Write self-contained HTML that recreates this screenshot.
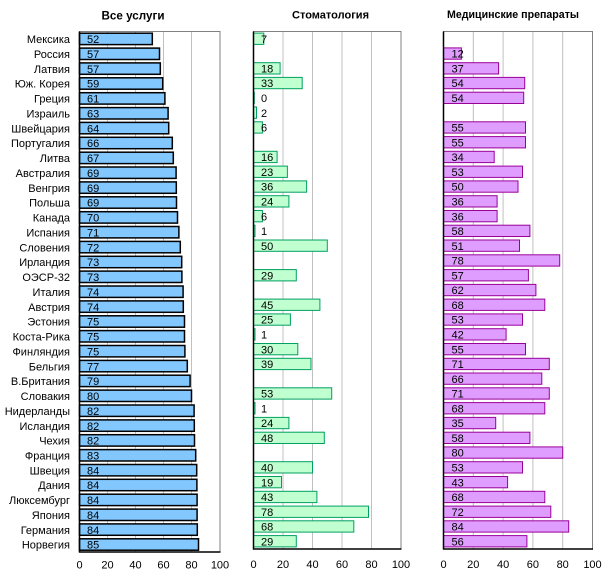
<!DOCTYPE html>
<html><head><meta charset="utf-8"><style>
html,body{margin:0;padding:0;background:#fff;}
svg{display:block;}
text{font-family:"Liberation Sans",Arial,sans-serif;}
</style></head><body>
<svg width="610" height="584" viewBox="0 0 610 584" xmlns="http://www.w3.org/2000/svg">
<rect x="0" y="0" width="610" height="584" fill="#fff"/>
<!-- titles -->
<g font-weight="bold" fill="#000">
<text x="101.5" y="19.3" font-size="12" textLength="63" lengthAdjust="spacingAndGlyphs">Все услуги</text>
<text x="292" y="18.5" font-size="11" textLength="77" lengthAdjust="spacingAndGlyphs">Стоматология</text>
<text x="447" y="18" font-size="11" textLength="132" lengthAdjust="spacingAndGlyphs">Медицинские препараты</text>
</g>

<!-- PANEL 1 -->
<g stroke="#c0c0c0" stroke-width="1">
<line x1="107.5" y1="31.5" x2="107.5" y2="552"/>
<line x1="135.5" y1="31.5" x2="135.5" y2="552"/>
<line x1="163.5" y1="31.5" x2="163.5" y2="552"/>
<line x1="191.5" y1="31.5" x2="191.5" y2="552"/>
</g>
<rect x="79.5" y="31.5" width="140.5" height="520.5" fill="none" stroke="#808080" stroke-width="1"/>
<g fill="#82c8ff" stroke="#000" stroke-width="1.5">
<rect x="79.5" y="33.2" width="72.8" height="11.4"/>
<rect x="79.5" y="48.1" width="80.0" height="11.4"/>
<rect x="79.5" y="62.9" width="80.8" height="11.4"/>
<rect x="79.5" y="77.8" width="83.2" height="11.4"/>
<rect x="79.5" y="92.7" width="85.4" height="11.4"/>
<rect x="79.5" y="107.6" width="88.6" height="11.4"/>
<rect x="79.5" y="122.4" width="89.2" height="11.4"/>
<rect x="79.5" y="137.3" width="92.8" height="11.4"/>
<rect x="79.5" y="152.2" width="93.8" height="11.4"/>
<rect x="79.5" y="167.0" width="96.6" height="11.4"/>
<rect x="79.5" y="181.9" width="96.8" height="11.4"/>
<rect x="79.5" y="196.8" width="97.0" height="11.4"/>
<rect x="79.5" y="211.7" width="98.0" height="11.4"/>
<rect x="79.5" y="226.5" width="99.4" height="11.4"/>
<rect x="79.5" y="241.4" width="100.8" height="11.4"/>
<rect x="79.5" y="256.3" width="102.2" height="11.4"/>
<rect x="79.5" y="271.1" width="102.4" height="11.4"/>
<rect x="79.5" y="286.0" width="103.6" height="11.4"/>
<rect x="79.5" y="300.9" width="103.8" height="11.4"/>
<rect x="79.5" y="315.8" width="105.0" height="11.4"/>
<rect x="79.5" y="330.6" width="105.0" height="11.4"/>
<rect x="79.5" y="345.5" width="105.4" height="11.4"/>
<rect x="79.5" y="360.4" width="107.8" height="11.4"/>
<rect x="79.5" y="375.2" width="110.6" height="11.4"/>
<rect x="79.5" y="390.1" width="112.0" height="11.4"/>
<rect x="79.5" y="405.0" width="114.6" height="11.4"/>
<rect x="79.5" y="419.9" width="114.8" height="11.4"/>
<rect x="79.5" y="434.7" width="115.0" height="11.4"/>
<rect x="79.5" y="449.6" width="116.2" height="11.4"/>
<rect x="79.5" y="464.5" width="117.2" height="11.4"/>
<rect x="79.5" y="479.3" width="117.4" height="11.4"/>
<rect x="79.5" y="494.2" width="117.6" height="11.4"/>
<rect x="79.5" y="509.1" width="117.6" height="11.4"/>
<rect x="79.5" y="523.9" width="117.8" height="11.4"/>
<rect x="79.5" y="538.8" width="119.0" height="11.4"/>
</g>
<line x1="79.5" y1="31.5" x2="79.5" y2="552.5" stroke="#000" stroke-width="1.5"/>
<line x1="79" y1="552" x2="220.5" y2="552" stroke="#000" stroke-width="1.5"/>
<g font-size="11" fill="#000" text-anchor="end">
<text x="70" y="43.1">Мексика</text>
<text x="70" y="58.0">Россия</text>
<text x="70" y="72.8">Латвия</text>
<text x="70" y="87.7">Юж. Корея</text>
<text x="70" y="102.6">Греция</text>
<text x="70" y="117.5">Израиль</text>
<text x="70" y="132.3">Швейцария</text>
<text x="70" y="147.2">Португалия</text>
<text x="70" y="162.1">Литва</text>
<text x="70" y="176.9">Австралия</text>
<text x="70" y="191.8">Венгрия</text>
<text x="70" y="206.7">Польша</text>
<text x="70" y="221.6">Канада</text>
<text x="70" y="236.4">Испания</text>
<text x="70" y="251.3">Словения</text>
<text x="70" y="266.2">Ирландия</text>
<text x="70" y="281.0">ОЭСР-32</text>
<text x="70" y="295.9">Италия</text>
<text x="70" y="310.8">Австрия</text>
<text x="70" y="325.7">Эстония</text>
<text x="70" y="340.5">Коста-Рика</text>
<text x="70" y="355.4">Финляндия</text>
<text x="70" y="370.3">Бельгия</text>
<text x="70" y="385.1">В.Британия</text>
<text x="70" y="400.0">Словакия</text>
<text x="70" y="414.9">Нидерланды</text>
<text x="70" y="429.8">Исландия</text>
<text x="70" y="444.6">Чехия</text>
<text x="70" y="459.5">Франция</text>
<text x="70" y="474.4">Швеция</text>
<text x="70" y="489.2">Дания</text>
<text x="70" y="504.1">Люксембург</text>
<text x="70" y="519.0">Япония</text>
<text x="70" y="533.8">Германия</text>
<text x="70" y="548.7">Норвегия</text>
</g>
<g font-size="11" fill="#000">
<text x="87" y="43.1">52</text>
<text x="87" y="58.0">57</text>
<text x="87" y="72.8">57</text>
<text x="87" y="87.7">59</text>
<text x="87" y="102.6">61</text>
<text x="87" y="117.5">63</text>
<text x="87" y="132.3">64</text>
<text x="87" y="147.2">66</text>
<text x="87" y="162.1">67</text>
<text x="87" y="176.9">69</text>
<text x="87" y="191.8">69</text>
<text x="87" y="206.7">69</text>
<text x="87" y="221.6">70</text>
<text x="87" y="236.4">71</text>
<text x="87" y="251.3">72</text>
<text x="87" y="266.2">73</text>
<text x="87" y="281.0">73</text>
<text x="87" y="295.9">74</text>
<text x="87" y="310.8">74</text>
<text x="87" y="325.7">75</text>
<text x="87" y="340.5">75</text>
<text x="87" y="355.4">75</text>
<text x="87" y="370.3">77</text>
<text x="87" y="385.1">79</text>
<text x="87" y="400.0">80</text>
<text x="87" y="414.9">82</text>
<text x="87" y="429.8">82</text>
<text x="87" y="444.6">82</text>
<text x="87" y="459.5">83</text>
<text x="87" y="474.4">84</text>
<text x="87" y="489.2">84</text>
<text x="87" y="504.1">84</text>
<text x="87" y="519.0">84</text>
<text x="87" y="533.8">84</text>
<text x="87" y="548.7">85</text>
</g>
<g font-size="11" fill="#000" text-anchor="middle">
<text x="79.5" y="568.5">0</text>
<text x="107.5" y="568.5">20</text>
<text x="135.5" y="568.5">40</text>
<text x="163.5" y="568.5">60</text>
<text x="191.5" y="568.5">80</text>
<text x="220" y="568.5">100</text>
</g>

<!-- PANEL 2 -->
<g stroke="#c0c0c0" stroke-width="1">
<line x1="283" y1="31.5" x2="283" y2="549"/>
<line x1="312.5" y1="31.5" x2="312.5" y2="549"/>
<line x1="342" y1="31.5" x2="342" y2="549"/>
<line x1="371.5" y1="31.5" x2="371.5" y2="549"/>
</g>
<rect x="253.5" y="31.5" width="147.5" height="517.5" fill="none" stroke="#808080" stroke-width="1"/>
<g fill="#c0ffd0" stroke="#00a060" stroke-width="1">
<rect x="253.5" y="33.1" width="10.3" height="11.3"/>
<rect x="253.5" y="62.7" width="26.6" height="11.3"/>
<rect x="253.5" y="77.4" width="48.7" height="11.3"/>
<rect x="253.5" y="92.2" width="0.8" height="11.3"/>
<rect x="253.5" y="107.0" width="3.0" height="11.3"/>
<rect x="253.5" y="121.8" width="8.9" height="11.3"/>
<rect x="253.5" y="151.3" width="23.6" height="11.3"/>
<rect x="253.5" y="166.1" width="33.9" height="11.3"/>
<rect x="253.5" y="180.9" width="53.1" height="11.3"/>
<rect x="253.5" y="195.7" width="35.4" height="11.3"/>
<rect x="253.5" y="210.5" width="8.9" height="11.3"/>
<rect x="253.5" y="225.2" width="1.5" height="11.3"/>
<rect x="253.5" y="240.0" width="73.8" height="11.3"/>
<rect x="253.5" y="269.6" width="42.8" height="11.3"/>
<rect x="253.5" y="299.1" width="66.4" height="11.3"/>
<rect x="253.5" y="313.9" width="36.9" height="11.3"/>
<rect x="253.5" y="328.7" width="1.5" height="11.3"/>
<rect x="253.5" y="343.5" width="44.3" height="11.3"/>
<rect x="253.5" y="358.3" width="57.5" height="11.3"/>
<rect x="253.5" y="387.8" width="78.2" height="11.3"/>
<rect x="253.5" y="402.6" width="1.5" height="11.3"/>
<rect x="253.5" y="417.4" width="35.4" height="11.3"/>
<rect x="253.5" y="432.2" width="70.8" height="11.3"/>
<rect x="253.5" y="461.7" width="59.0" height="11.3"/>
<rect x="253.5" y="476.5" width="28.0" height="11.3"/>
<rect x="253.5" y="491.3" width="63.4" height="11.3"/>
<rect x="253.5" y="506.1" width="115.0" height="11.3"/>
<rect x="253.5" y="520.8" width="100.3" height="11.3"/>
<rect x="253.5" y="535.6" width="42.8" height="11.3"/>
</g>
<line x1="253.5" y1="31.5" x2="253.5" y2="549.5" stroke="#000" stroke-width="1.5"/>
<line x1="253" y1="549" x2="401.5" y2="549" stroke="#000" stroke-width="1.5"/>
<g font-size="11" fill="#000">
<text x="261" y="42.9">7</text>
<text x="261" y="72.5">18</text>
<text x="261" y="87.2">33</text>
<text x="261" y="102.0">0</text>
<text x="261" y="116.8">2</text>
<text x="261" y="131.6">6</text>
<text x="261" y="161.1">16</text>
<text x="261" y="175.9">23</text>
<text x="261" y="190.7">36</text>
<text x="261" y="205.5">24</text>
<text x="261" y="220.3">6</text>
<text x="261" y="235.0">1</text>
<text x="261" y="249.8">50</text>
<text x="261" y="279.4">29</text>
<text x="261" y="308.9">45</text>
<text x="261" y="323.7">25</text>
<text x="261" y="338.5">1</text>
<text x="261" y="353.3">30</text>
<text x="261" y="368.1">39</text>
<text x="261" y="397.6">53</text>
<text x="261" y="412.4">1</text>
<text x="261" y="427.2">24</text>
<text x="261" y="442.0">48</text>
<text x="261" y="471.5">40</text>
<text x="261" y="486.3">19</text>
<text x="261" y="501.1">43</text>
<text x="261" y="515.9">78</text>
<text x="261" y="530.6">68</text>
<text x="261" y="545.4">29</text>
</g>
<g font-size="11" fill="#000" text-anchor="middle">
<text x="253.5" y="568">0</text>
<text x="283" y="568">20</text>
<text x="312.5" y="568">40</text>
<text x="342" y="568">60</text>
<text x="371.5" y="568">80</text>
<text x="401" y="568">100</text>
</g>

<!-- PANEL 3 -->
<g stroke="#c0c0c0" stroke-width="1">
<line x1="473.3" y1="31.5" x2="473.3" y2="549"/>
<line x1="503.1" y1="31.5" x2="503.1" y2="549"/>
<line x1="532.9" y1="31.5" x2="532.9" y2="549"/>
<line x1="562.7" y1="31.5" x2="562.7" y2="549"/>
</g>
<rect x="443.5" y="31.5" width="149" height="517.5" fill="none" stroke="#808080" stroke-width="1"/>
<g fill="#df9eff" stroke="#990099" stroke-width="1">
<rect x="443.5" y="47.9" width="17.9" height="11.3"/>
<rect x="443.5" y="62.7" width="55.1" height="11.3"/>
<rect x="443.5" y="77.4" width="81.2" height="11.3"/>
<rect x="443.5" y="92.2" width="80.2" height="11.3"/>
<rect x="443.5" y="121.8" width="82.0" height="11.3"/>
<rect x="443.5" y="136.6" width="82.0" height="11.3"/>
<rect x="443.5" y="151.3" width="50.7" height="11.3"/>
<rect x="443.5" y="166.1" width="79.0" height="11.3"/>
<rect x="443.5" y="180.9" width="74.5" height="11.3"/>
<rect x="443.5" y="195.7" width="53.6" height="11.3"/>
<rect x="443.5" y="210.5" width="53.6" height="11.3"/>
<rect x="443.5" y="225.2" width="86.4" height="11.3"/>
<rect x="443.5" y="240.0" width="76.0" height="11.3"/>
<rect x="443.5" y="254.8" width="116.2" height="11.3"/>
<rect x="443.5" y="269.6" width="84.9" height="11.3"/>
<rect x="443.5" y="284.4" width="92.4" height="11.3"/>
<rect x="443.5" y="299.1" width="101.3" height="11.3"/>
<rect x="443.5" y="313.9" width="79.0" height="11.3"/>
<rect x="443.5" y="328.7" width="62.6" height="11.3"/>
<rect x="443.5" y="343.5" width="82.0" height="11.3"/>
<rect x="443.5" y="358.3" width="105.8" height="11.3"/>
<rect x="443.5" y="373.0" width="98.3" height="11.3"/>
<rect x="443.5" y="387.8" width="105.8" height="11.3"/>
<rect x="443.5" y="402.6" width="101.3" height="11.3"/>
<rect x="443.5" y="417.4" width="52.2" height="11.3"/>
<rect x="443.5" y="432.2" width="86.4" height="11.3"/>
<rect x="443.5" y="446.9" width="119.2" height="11.3"/>
<rect x="443.5" y="461.7" width="79.0" height="11.3"/>
<rect x="443.5" y="476.5" width="64.1" height="11.3"/>
<rect x="443.5" y="491.3" width="101.3" height="11.3"/>
<rect x="443.5" y="506.1" width="107.3" height="11.3"/>
<rect x="443.5" y="520.8" width="125.2" height="11.3"/>
<rect x="443.5" y="535.6" width="83.4" height="11.3"/>
</g>
<line x1="443.5" y1="31.5" x2="443.5" y2="549.5" stroke="#000" stroke-width="1.5"/>
<line x1="443" y1="549" x2="593" y2="549" stroke="#000" stroke-width="1.5"/>
<g font-size="11" fill="#000">
<text x="451.5" y="57.7">12</text>
<text x="451.5" y="72.5">37</text>
<text x="451.5" y="87.2">54</text>
<text x="451.5" y="102.0">54</text>
<text x="451.5" y="131.6">55</text>
<text x="451.5" y="146.4">55</text>
<text x="451.5" y="161.1">34</text>
<text x="451.5" y="175.9">53</text>
<text x="451.5" y="190.7">50</text>
<text x="451.5" y="205.5">36</text>
<text x="451.5" y="220.3">36</text>
<text x="451.5" y="235.0">58</text>
<text x="451.5" y="249.8">51</text>
<text x="451.5" y="264.6">78</text>
<text x="451.5" y="279.4">57</text>
<text x="451.5" y="294.2">62</text>
<text x="451.5" y="308.9">68</text>
<text x="451.5" y="323.7">53</text>
<text x="451.5" y="338.5">42</text>
<text x="451.5" y="353.3">55</text>
<text x="451.5" y="368.1">71</text>
<text x="451.5" y="382.8">66</text>
<text x="451.5" y="397.6">71</text>
<text x="451.5" y="412.4">68</text>
<text x="451.5" y="427.2">35</text>
<text x="451.5" y="442.0">58</text>
<text x="451.5" y="456.7">80</text>
<text x="451.5" y="471.5">53</text>
<text x="451.5" y="486.3">43</text>
<text x="451.5" y="501.1">68</text>
<text x="451.5" y="515.9">72</text>
<text x="451.5" y="530.6">84</text>
<text x="451.5" y="545.4">56</text>
</g>
<g font-size="11" fill="#000" text-anchor="middle">
<text x="443.5" y="568">0</text>
<text x="473.3" y="568">20</text>
<text x="503.1" y="568">40</text>
<text x="532.9" y="568">60</text>
<text x="562.7" y="568">80</text>
<text x="592.5" y="568">100</text>
</g>
</svg>
</body></html>
